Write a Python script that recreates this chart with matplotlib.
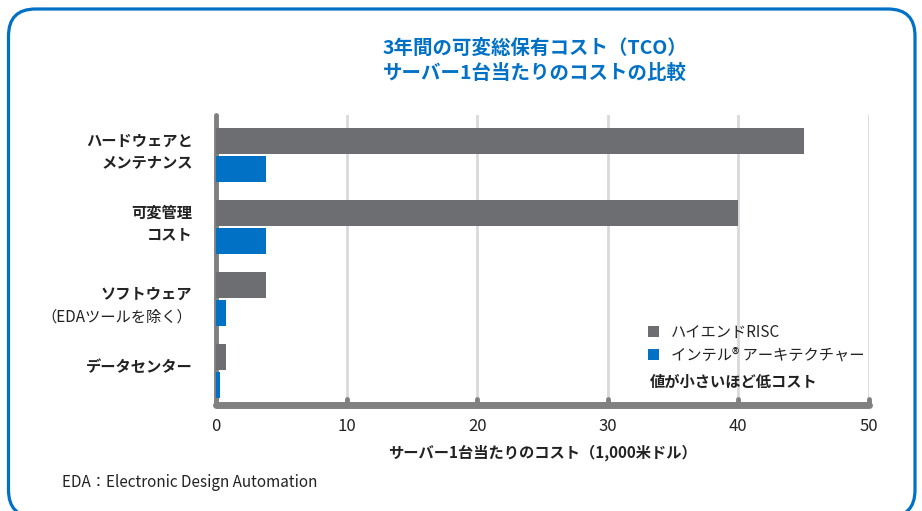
import matplotlib.pyplot as plt
from matplotlib.patches import FancyBboxPatch
import numpy as np

plt.rcParams['font.family'] = ['Noto Sans CJK JP', 'DejaVu Sans']

# data
categories = ['ハードウェアと\nメンテナンス', '可変管理\nコスト', 'ソフトウェア', 'データセンター']
sub_labels = ['', '', '（EDAツールを除く）', '']
risc = [45, 40, 3.8, 0.8]
intel = [3.8, 3.8, 0.8, 0.3]
xticks = [0, 10, 20, 30, 40, 50]

gray = '#6D6E71'
blue = '#0071C5'

fig = plt.figure(figsize=(9.22, 5.11), dpi=100)

# rounded frame (in inches, bottom edge runs off the figure)
frame = FancyBboxPatch((0.085, -0.06), 9.065, 5.08, boxstyle='round,pad=0,rounding_size=0.27',
                       transform=fig.dpi_scale_trans, fill=False, edgecolor=blue, linewidth=2.3)
fig.patches.append(frame)

ax = fig.add_axes([0.2343, 0.2074, 0.7082, 0.5676])

y = np.arange(len(categories))
h = 0.36
ax.barh(y - 0.195, risc, height=h, color=gray, label='ハイエンドRISC', zorder=3)
ax.barh(y + 0.195, intel, height=h, color=blue, label='インテル® アーキテクチャー', zorder=3)

ax.set_xlim(0, 50)
ax.set_ylim(3.47, -0.556)
ax.set_xticks(xticks)
ax.set_xticklabels([str(t) for t in xticks], fontsize=12, color='#222222')
ax.tick_params(axis='x', length=0, pad=9)
ax.set_yticks([])
ax.grid(axis='x', color='#D9D9D9', linewidth=2, zorder=0)

for s in ['top', 'right']:
    ax.spines[s].set_visible(False)
ax.spines['bottom'].set_color('#808080')
ax.spines['bottom'].set_linewidth(5)
ax.spines['bottom'].set_capstyle('round')
ax.spines['left'].set_color('#808080')
ax.spines['left'].set_linewidth(3.5)
ax.spines['left'].set_capstyle('round')

# small tick stubs on axis
for t in xticks[1:]:
    ax.plot([t, t], [3.47, 3.38], color='#808080', linewidth=3.5, solid_capstyle='round',
            clip_on=False, zorder=4)

# category labels
for i, (c, s) in enumerate(zip(categories, sub_labels)):
    if s:
        ax.text(-1.8, i - 0.08, c, ha='right', va='center', fontsize=11, fontweight='bold',
                color='#222222')
        ax.text(-1.8, i + 0.25, s, ha='right', va='center', fontsize=11, color='#222222')
    else:
        ax.text(-1.8, i - 0.05, c, ha='right', va='center', fontsize=11, fontweight='bold',
                color='#222222', linespacing=1.45)

ax.set_xlabel('サーバー1台当たりのコスト（1,000米ドル）', fontsize=11, fontweight='bold',
              color='#222222', labelpad=7)

leg = ax.legend(loc='lower left', bbox_to_anchor=(0.641, 0.095), frameon=False, fontsize=11,
                handlelength=0.7, handleheight=0.7, handletextpad=0.8, labelspacing=0.4)
for t in leg.get_texts():
    t.set_color('#222222')
ax.text(0.665, 0.08, '値が小さいほど低コスト', transform=ax.transAxes, fontsize=11,
        fontweight='bold', color='#222222', ha='left', va='center')

fig.text(0.58, 0.905, '3年間の可変総保有コスト（TCO）', ha='center', va='center', fontsize=14,
         fontweight='bold', color=blue)
fig.text(0.58, 0.857, 'サーバー1台当たりのコストの比較', ha='center', va='center', fontsize=14,
         fontweight='bold', color=blue)

fig.text(0.067, 0.055, 'EDA：Electronic Design Automation', ha='left', va='center', fontsize=11,
         color='#222222')

fig.savefig('out.png', dpi=100)
